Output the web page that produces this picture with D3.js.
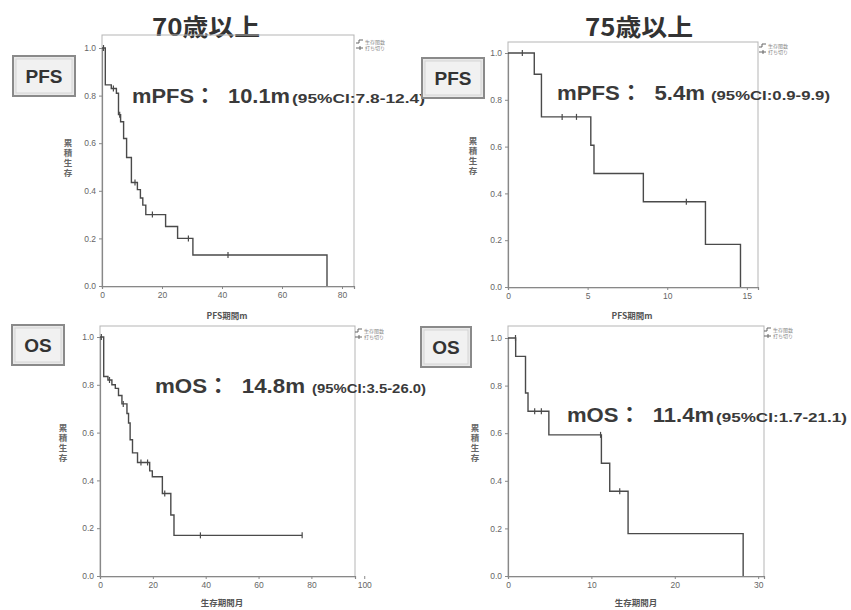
<!DOCTYPE html>
<html><head><meta charset="utf-8">
<script src="https://cdn.jsdelivr.net/npm/d3@7"></script>
<style>
html,body{margin:0;padding:0;background:#fff;}
svg{display:block;}
</style></head>
<body>
<svg id="chart" width="851" height="610"></svg>
<script>
// ---------- DATA ----------
// PFS, age >= 70 (months)
const pfs70Time = [0, 1.1, 3.1, 4.8, 5.5, 6.2, 7.2, 8.2, 9.8, 11.8, 12.8, 13.6, 14.6, 21.2, 25.2, 30.3, 75.0];
const pfs70Surv = [1.0, 0.845, 0.83, 0.81, 0.72, 0.69, 0.62, 0.54, 0.435, 0.405, 0.37, 0.34, 0.30, 0.25, 0.20, 0.13, 0.0];
const pfs70Cens = [0.5, 3.8, 5.9, 11.0, 16.8, 28.8, 42.0];
// PFS, age >= 75
const pfs75Time = [0, 1.65, 2.1, 5.2, 5.4, 8.5, 12.4, 14.6];
const pfs75Surv = [1.0, 0.909, 0.727, 0.606, 0.485, 0.364, 0.182, 0.0];
const pfs75Cens = [0.9, 3.4, 4.3, 11.2];
// OS, age >= 70
const os70Time = [0, 1.4, 3.0, 4.5, 5.8, 7.0, 8.3, 10.2, 10.8, 11.4, 12.3, 14.2, 18.8, 19.8, 23.6, 26.8, 28.0, 76.5];
const os70Surv = [1.0, 0.835, 0.82, 0.80, 0.785, 0.755, 0.72, 0.68, 0.64, 0.57, 0.515, 0.475, 0.44, 0.415, 0.345, 0.255, 0.17, 0.17];
const os70Cens = [0.5, 3.6, 8.8, 15.5, 18.0, 24.5, 38.0, 76.5];
// OS, age >= 75
const os75Time = [0, 0.92, 2.1, 2.4, 4.9, 11.2, 12.2, 14.4, 28.2];
const os75Surv = [1.0, 0.923, 0.769, 0.692, 0.593, 0.474, 0.356, 0.178, 0.0];
const os75Cens = [0.9, 3.2, 4.0, 11.1, 13.4];

const yTicks = [0, 0.2, 0.4, 0.6, 0.8, 1.0];
const xTicks70pfs = [0, 20, 40, 60, 80];
const xTicks75pfs = [0, 5, 10, 15];
const xTicks70os = [0, 20, 40, 60, 80, 100];
const xTicks75os = [0, 10, 20, 30];

const titles = ["70歳以上", "75歳以上"];
const yLabel = "累積生存";
const xLabelPFS = "PFS期間m";
const xLabelOS = "生存期間月";
const legendItems = ["生存関数", "打ち切り"];
const medianBig = ["mPFS：  10.1m", "mPFS：  5.4m", "mOS：  14.8m", "mOS：  11.4m"];
const medianCI = ["(95%CI:7.8-12.4)", "(95%CI:0.9-9.9)", "(95%CI:3.5-26.0)", "(95%CI:1.7-21.1)"];
const boxLabels = ["PFS", "PFS", "OS", "OS"];

// ---------- LAYOUT ----------
const panels = [
  {time: pfs70Time, surv: pfs70Surv, cens: pfs70Cens, ticks: xTicks70pfs, xdom: [0, 84], frame: {x0: 102, x1: 354, y0: 35, y1: 287}, y0: 286, y1: 48,
   xlabel: xLabelPFS, xlabelPos: [227, 319], ylabelPos: [68, 139], legend: [356, 40],
   box: {x: 13, y: 56, w: 62, h: 40}, big: [132, 158], small: [292, 133], baseY: 103},
  {time: pfs75Time, surv: pfs75Surv, cens: pfs75Cens, ticks: xTicks75pfs, xdom: [0, 15.7], frame: {x0: 508, x1: 758, y0: 42, y1: 288}, y0: 287, y1: 53,
   xlabel: xLabelPFS, xlabelPos: [632, 319], ylabelPos: [473, 137], legend: [759, 44],
   box: {x: 422, y: 58, w: 62, h: 40}, big: [557, 148], small: [711, 119], baseY: 100},
  {time: os70Time, surv: os70Surv, cens: os70Cens, ticks: xTicks70os, xdom: [0, 96.5], frame: {x0: 100, x1: 355, y0: 326, y1: 577}, y0: 576, y1: 337,
   xlabel: xLabelOS, xlabelPos: [222, 606], ylabelPos: [63, 424], legend: [355, 329],
   box: {x: 12, y: 325, w: 52, h: 40}, big: [155, 150], small: [312, 114], baseY: 393},
  {time: os75Time, surv: os75Surv, cens: os75Cens, ticks: xTicks75os, xdom: [0, 30.7], frame: {x0: 508, x1: 764, y0: 326, y1: 577}, y0: 576, y1: 338,
   xlabel: xLabelOS, xlabelPos: [636, 606], ylabelPos: [475, 424], legend: [764, 328],
   box: {x: 421, y: 327, w: 50, h: 40}, big: [567, 147], small: [716, 131], baseY: 422}
];

const svg = d3.select("#chart");
svg.append("rect").attr("width", 851).attr("height", 610).attr("fill", "#fff");

const latin = "'Liberation Sans', Arial, 'Noto Sans CJK JP', sans-serif";
const cjk = "'Noto Sans CJK JP', 'Liberation Sans', sans-serif";

// Titles
[[206, 36], [639, 36]].forEach((pos, i) => {
  svg.append("text").attr("x", pos[0] - 54).attr("y", pos[1])
    .attr("font-family", cjk).attr("font-weight", "bold").attr("font-size", 24)
    .attr("textLength", 108).attr("lengthAdjust", "spacingAndGlyphs")
    .attr("fill", "#333").text(titles[i]);
});

panels.forEach((p, pi) => {
  const g = svg.append("g");
  const x = d3.scaleLinear().domain(p.xdom).range([p.frame.x0, p.frame.x1]);
  const y = d3.scaleLinear().domain([0, 1]).range([p.y0, p.y1]);

  // frame
  g.append("rect").attr("x", p.frame.x0).attr("y", p.frame.y0)
    .attr("width", p.frame.x1 - p.frame.x0).attr("height", p.frame.y1 - p.frame.y0)
    .attr("fill", "none").attr("stroke", "#b5b5b5").attr("stroke-width", 1);

  // axes
  const ax = g.append("g").attr("transform", `translate(0,${p.y0})`)
    .call(d3.axisBottom(x).tickValues(p.ticks).tickSize(3).tickFormat(d3.format("d")));
  const ay = g.append("g").attr("transform", `translate(${p.frame.x0},0)`)
    .call(d3.axisLeft(y).tickValues(yTicks).tickSize(3).tickFormat(d3.format(".1f")));
  [ax, ay].forEach(a => {
    a.selectAll("path").attr("stroke", "#888").attr("stroke-width", 1.2);
    a.selectAll("line").attr("stroke", "#888");
    a.selectAll("text").attr("font-family", latin).attr("font-size", 8.5).attr("fill", "#666");
  });

  // axis labels
  g.append("text").attr("x", p.xlabelPos[0]).attr("y", p.xlabelPos[1]).attr("text-anchor", "middle")
    .attr("font-family", cjk).attr("font-size", 8.5).attr("font-weight", "bold").attr("fill", "#555").text(p.xlabel);
  g.append("text").attr("x", p.ylabelPos[0]).attr("y", p.ylabelPos[1])
    .attr("font-family", cjk).attr("font-size", 8.5).attr("font-weight", "bold")
    .attr("fill", "#666").style("writing-mode", "vertical-rl").attr("letter-spacing", 1.5)
    .text(yLabel);

  // survival step curve
  const pts = p.time.map((t, i) => [t, p.surv[i]]);
  const line = d3.line().x(d => x(d[0])).y(d => y(d[1])).curve(d3.curveStepAfter);
  g.append("path").datum(pts).attr("d", line).attr("fill", "none")
    .attr("stroke", "#4a4a4a").attr("stroke-width", 1.4);

  // censor marks
  const survAt = t => { let s = p.surv[0]; for (let i = 0; i < p.time.length; i++) { if (p.time[i] <= t) s = p.surv[i]; } return s; };
  g.selectAll(".cens").data(p.cens).enter().append("line")
    .attr("x1", d => x(d)).attr("x2", d => x(d))
    .attr("y1", d => y(survAt(d)) - 3).attr("y2", d => y(survAt(d)) + 3)
    .attr("stroke", "#4a4a4a").attr("stroke-width", 1.2);

  // legend
  const lg = g.append("g").attr("transform", `translate(${p.legend[0]},${p.legend[1]})`);
  lg.append("path").attr("d", "M0,3 L3,3 L3,0 L7,0").attr("fill", "none").attr("stroke", "#666").attr("stroke-width", 1);
  lg.append("path").attr("d", "M0,8 L7,8 M4,6 L4,10").attr("fill", "none").attr("stroke", "#666").attr("stroke-width", 1);
  legendItems.forEach((t, i) => {
    lg.append("text").attr("x", 9).attr("y", 4 + i * 5.5).attr("font-family", cjk).attr("font-size", 5)
      .attr("fill", "#888").text(t);
  });

  // label box
  g.append("rect").attr("x", p.box.x).attr("y", p.box.y).attr("width", p.box.w).attr("height", p.box.h)
    .attr("fill", "#e9e9e9").attr("stroke", "#8a8a8a").attr("stroke-width", 2);
  g.append("rect").attr("x", p.box.x + 3).attr("y", p.box.y + 3).attr("width", p.box.w - 6).attr("height", p.box.h - 6)
    .attr("fill", "#f1f1f1").attr("stroke", "#cfcfcf").attr("stroke-width", 0.8);
  g.append("text").attr("x", p.box.x + p.box.w / 2).attr("y", p.box.y + p.box.h / 2 + 7).attr("text-anchor", "middle")
    .attr("font-family", latin).attr("font-weight", "bold").attr("font-size", 19).attr("fill", "#333")
    .text(boxLabels[pi]);

  // median annotation
  g.append("text").attr("x", p.big[0]).attr("y", p.baseY)
    .attr("font-family", latin).attr("font-weight", "bold").attr("font-size", 21).attr("fill", "#3a3a3a")
    .attr("textLength", p.big[1]).attr("lengthAdjust", "spacingAndGlyphs")
    .style("white-space", "pre").text(medianBig[pi]);
  g.append("text").attr("x", p.small[0]).attr("y", p.baseY)
    .attr("font-family", latin).attr("font-weight", "bold").attr("font-size", 12.5).attr("fill", "#3a3a3a")
    .attr("textLength", p.small[1]).attr("lengthAdjust", "spacingAndGlyphs")
    .text(medianCI[pi]);
});
</script>
</body></html>
